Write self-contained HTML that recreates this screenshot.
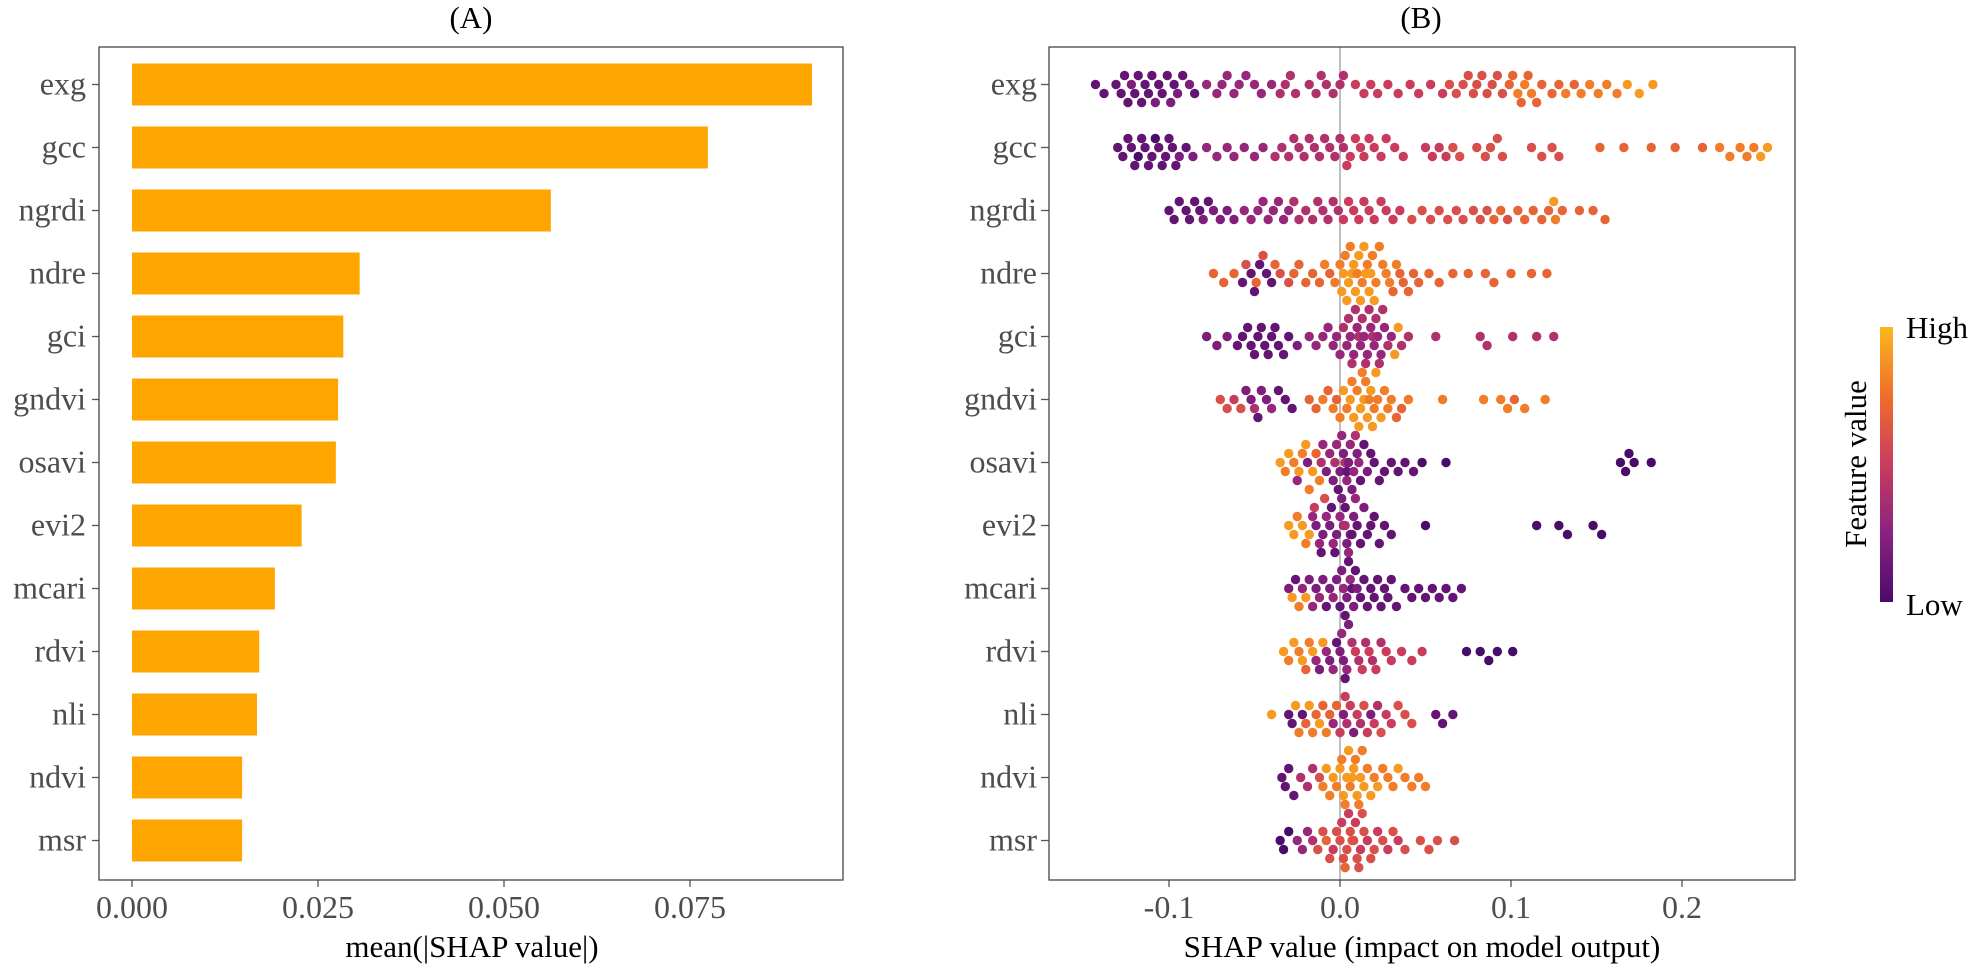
<!DOCTYPE html>
<html><head><meta charset="utf-8">
<style>
html,body{margin:0;padding:0;background:#fff;}
svg{display:block;font-family:"Liberation Serif",serif;}
</style></head>
<body>
<svg id="chart" width="1980" height="964" viewBox="0 0 1980 964" xmlns="http://www.w3.org/2000/svg">
<defs>
<linearGradient id="cbar" x1="0" y1="1" x2="0" y2="0">
<stop offset="0" stop-color="#4a0c6b"/><stop offset="0.25" stop-color="#8a2281"/>
<stop offset="0.5" stop-color="#c93c5e"/><stop offset="0.75" stop-color="#ef6e2b"/>
<stop offset="1" stop-color="#fcb81c"/>
</linearGradient>
</defs>
<g id="panelA"></g>
<g id="panelB"></g>
<g>
<rect x="1880" y="327" width="13" height="275" fill="url(#cbar)"/>
<text x="1906" y="338" font-size="31" fill="#000">High</text>
<text x="1906" y="615" font-size="31" fill="#000">Low</text>
<text x="1866" y="464" font-size="31" fill="#000" text-anchor="middle" transform="rotate(-90 1866 464)">Feature value</text>
</g>
</svg>
<script>
const features = ["exg","gcc","ngrdi","ndre","gci","gndvi","osavi","evi2","mcari","rdvi","nli","ndvi","msr"];
const meanAbsShap = [0.0914,0.0774,0.0563,0.0306,0.0284,0.0277,0.0274,0.0228,0.0192,0.0171,0.0168,0.0148,0.0148];
const barTicks = [0, 0.025, 0.05, 0.075];
const barTickLabels = ["0.000","0.025","0.050","0.075"];
const shapTicks = [-0.1, 0, 0.1, 0.2];
const shapTickLabels = ["-0.1","0.0","0.1","0.2"];
// [shap value in thousandths, feature value 0-10]
const ptsExg = [[-143,1],[-138,1],[-131,1],[-128,1],[-126,1],[-124,1],[-122,2],[-120,1],[-118,1],[-116,1],[-114,1],[-112,1],[-110,1],[-108,2],[-106,1],[-104,1],[-101,1],[-99,2],[-97,1],[-95,2],[-92,1],[-88,2],[-85,1],[-78,3],[-72,3],[-69,3],[-66,3],[-62,3],[-59,3],[-55,3],[-50,3],[-46,3],[-40,3],[-35,4],[-32,4],[-29,4],[-26,4],[-18,4],[-14,4],[-11,4],[-8,4],[-4,4],[0,4],[2,4],[9,5],[14,5],[18,5],[22,5],[28,5],[34,5],[41,5],[46,5],[53,5],[60,5],[64,6],[68,6],[72,6],[75,6],[78,6],[80,6],[83,6],[86,6],[89,6],[92,6],[95,6],[99,7],[101,7],[104,8],[106,7],[108,8],[110,7],[112,8],[115,7],[118,7],[124,7],[128,7],[132,8],[137,7],[141,8],[146,8],[151,8],[156,8],[162,8],[168,9],[175,9],[183,9]];
const ptsGcc = [[-130,1],[-127,1],[-124,1],[-122,1],[-120,1],[-118,0],[-116,1],[-114,1],[-112,1],[-110,1],[-108,0],[-106,1],[-104,1],[-102,1],[-100,1],[-98,1],[-96,1],[-94,2],[-90,1],[-86,2],[-78,3],[-72,3],[-66,3],[-62,3],[-56,3],[-50,3],[-45,3],[-38,4],[-34,4],[-30,4],[-27,4],[-24,4],[-21,4],[-18,4],[-15,4],[-12,4],[-9,4],[-6,4],[-3,4],[0,4],[2,4],[4,5],[6,5],[9,5],[12,5],[14,5],[17,5],[20,5],[24,5],[27,5],[32,5],[37,5],[50,5],[54,5],[58,5],[62,5],[66,6],[70,6],[80,6],[85,6],[88,6],[92,6],[95,6],[112,6],[118,6],[124,6],[128,6],[152,7],[166,7],[182,7],[196,7],[212,7],[222,8],[228,8],[234,8],[238,8],[242,8],[246,9],[250,9]];
const ptsNgrdi = [[-100,1],[-97,1],[-94,1],[-90,1],[-88,1],[-85,1],[-82,1],[-80,2],[-77,1],[-74,2],[-70,2],[-66,2],[-62,2],[-56,3],[-52,3],[-48,3],[-45,3],[-42,3],[-39,3],[-36,3],[-33,3],[-30,3],[-27,4],[-24,4],[-20,4],[-16,4],[-13,4],[-10,4],[-7,4],[-4,4],[-1,4],[2,5],[5,5],[8,5],[11,5],[14,5],[17,5],[20,5],[24,5],[27,5],[31,5],[35,5],[42,6],[48,6],[53,6],[58,6],[63,6],[68,6],[72,6],[78,6],[82,6],[86,6],[90,7],[94,7],[98,6],[104,7],[108,7],[113,7],[118,7],[122,7],[125,9],[126,8],[130,7],[140,7],[148,7],[155,7]];
const ptsNdre = [[-74,7],[-68,7],[-62,7],[-57,1],[-55,6],[-52,1],[-50,1],[-49,7],[-47,1],[-45,6],[-43,1],[-40,1],[-38,7],[-35,6],[-30,6],[-27,7],[-24,7],[-20,7],[-16,7],[-12,7],[-9,8],[-6,7],[-3,8],[0,8],[1,9],[2,9],[3,8],[4,9],[5,9],[6,8],[7,9],[8,9],[9,9],[10,8],[11,9],[12,9],[13,8],[14,9],[15,9],[16,8],[17,9],[18,9],[19,8],[20,9],[21,8],[23,8],[25,8],[27,8],[29,8],[31,7],[33,8],[35,7],[37,7],[40,7],[43,7],[46,7],[52,7],[58,7],[66,7],[75,7],[85,7],[90,7],[100,7],[112,7],[121,7]];
const ptsGci = [[-78,2],[-72,2],[-66,2],[-60,1],[-57,1],[-54,1],[-52,1],[-50,1],[-48,1],[-46,1],[-44,1],[-42,1],[-40,1],[-38,1],[-36,1],[-33,1],[-30,1],[-25,2],[-18,3],[-14,3],[-10,3],[-7,3],[-4,3],[-2,3],[0,3],[2,4],[4,3],[5,4],[6,3],[7,4],[8,3],[9,4],[10,3],[11,4],[12,3],[13,4],[14,3],[15,4],[16,3],[17,4],[18,3],[19,4],[20,3],[21,4],[22,3],[23,4],[24,3],[25,4],[26,3],[28,4],[30,3],[32,9],[34,9],[36,4],[40,4],[56,4],[82,4],[86,4],[101,4],[115,4],[125,4]];
const ptsGndvi = [[-70,6],[-66,6],[-62,5],[-58,6],[-55,2],[-52,2],[-50,4],[-48,1],[-46,2],[-43,2],[-40,3],[-36,1],[-32,1],[-28,1],[-18,7],[-14,7],[-10,8],[-7,7],[-4,8],[-2,7],[0,8],[2,9],[4,8],[6,9],[7,8],[8,9],[10,8],[11,9],[12,9],[13,8],[14,9],[15,8],[16,9],[17,8],[18,9],[19,9],[20,8],[21,9],[22,8],[24,9],[26,8],[28,8],[30,8],[33,7],[36,7],[40,8],[60,8],[84,8],[94,8],[98,8],[102,7],[108,8],[120,8]];
const ptsOsavi = [[-35,9],[-32,8],[-30,9],[-27,8],[-25,3],[-24,9],[-22,8],[-20,9],[-19,2],[-18,8],[-16,9],[-14,7],[-12,8],[-11,4],[-10,3],[-8,2],[-6,3],[-4,2],[-3,4],[-2,3],[-1,1],[0,2],[1,3],[2,2],[3,4],[4,3],[4,1],[5,2],[6,3],[7,2],[8,3],[9,4],[10,2],[11,3],[12,1],[14,1],[16,2],[18,1],[20,1],[23,1],[26,1],[30,1],[34,1],[38,1],[43,1],[48,0],[62,0],[164,0],[167,0],[169,0],[172,0],[182,0]];
const ptsEvi2 = [[-30,9],[-27,9],[-25,8],[-22,9],[-20,8],[-18,9],[-16,3],[-15,5],[-14,2],[-12,3],[-11,1],[-10,2],[-9,6],[-8,3],[-6,2],[-5,1],[-4,3],[-3,1],[-2,2],[0,3],[1,2],[2,3],[3,1],[3,4],[4,2],[5,3],[6,2],[7,1],[8,2],[9,3],[10,1],[12,1],[14,2],[16,1],[18,1],[20,1],[23,1],[26,1],[30,1],[50,0],[115,0],[128,0],[133,0],[148,0],[153,0]];
const ptsMcari = [[-30,2],[-28,9],[-26,1],[-24,8],[-22,3],[-20,9],[-18,2],[-16,3],[-14,2],[-12,3],[-10,2],[-8,1],[-6,2],[-4,3],[-2,2],[0,1],[1,2],[2,3],[3,1],[4,2],[5,1],[6,3],[7,1],[8,2],[9,1],[10,2],[12,1],[14,1],[16,1],[18,1],[20,1],[22,1],[24,1],[26,1],[28,1],[30,1],[33,1],[38,1],[42,1],[46,1],[50,1],[54,1],[58,1],[62,1],[66,1],[71,1]];
const ptsRdvi = [[-33,9],[-30,8],[-27,9],[-24,8],[-22,9],[-20,7],[-18,8],[-16,9],[-14,3],[-12,2],[-10,9],[-8,3],[-6,2],[-4,3],[-2,1],[0,2],[1,3],[2,2],[3,1],[4,3],[5,2],[7,4],[9,5],[11,4],[13,5],[15,4],[17,5],[19,4],[21,5],[24,4],[27,5],[30,5],[36,5],[42,5],[48,5],[74,0],[82,0],[87,0],[92,0],[101,0]];
const ptsNli = [[-40,9],[-30,1],[-28,1],[-26,9],[-24,8],[-22,1],[-20,7],[-18,9],[-16,8],[-14,7],[-12,9],[-10,7],[-8,8],[-6,7],[-4,3],[-2,7],[0,5],[2,2],[3,5],[4,4],[6,5],[8,2],[10,5],[12,4],[14,6],[16,5],[18,2],[20,5],[22,4],[24,6],[27,5],[30,5],[34,6],[38,6],[42,6],[56,1],[60,1],[66,1]];
const ptsNdvi = [[-34,1],[-32,1],[-30,1],[-27,1],[-23,4],[-19,4],[-16,4],[-12,6],[-10,8],[-8,9],[-6,8],[-4,9],[-2,8],[0,9],[1,8],[2,9],[3,8],[4,9],[5,9],[6,8],[7,9],[8,9],[9,8],[10,9],[11,8],[12,9],[13,8],[14,9],[16,8],[18,9],[20,8],[22,9],[25,8],[28,8],[31,8],[34,9],[38,8],[42,8],[46,8],[50,8]];
const ptsMsr = [[-35,0],[-33,0],[-30,0],[-25,3],[-22,3],[-19,3],[-16,4],[-13,6],[-10,6],[-8,7],[-6,6],[-4,5],[-2,6],[0,6],[1,5],[2,6],[3,7],[4,6],[5,5],[6,6],[7,7],[8,6],[9,5],[10,6],[11,6],[12,5],[13,6],[14,6],[16,5],[18,6],[20,6],[22,5],[25,6],[28,5],[31,6],[34,5],[38,6],[47,6],[52,6],[57,6],[67,6]];
const swarmData = [ptsExg,ptsGcc,ptsNgrdi,ptsNdre,ptsGci,ptsGndvi,ptsOsavi,ptsEvi2,ptsMcari,ptsRdvi,ptsNli,ptsNdvi,ptsMsr];

const NS="http://www.w3.org/2000/svg";
function mk(tag, attrs, parent, text){
  const e=document.createElementNS(NS,tag);
  for(const k in attrs) e.setAttribute(k,attrs[k]);
  if(text!==undefined) e.textContent=text;
  parent.appendChild(e); return e;
}
const plotTop=47, plotBottom=880, rowY0=84.5, rowStep=63;
const yRow = i => rowY0 + i*rowStep;

// Panel A
const A=document.getElementById('panelA');
const aL=99, aR=843, x0A=132, pxPerUnitA=186/0.025;
const xA = v => x0A + v*pxPerUnitA;
mk('text',{x:471,y:28,'font-size':31,'text-anchor':'middle',fill:'#000',},A,'(A)');
features.forEach((f,i)=>{
  const r=mk('rect',{x:xA(0),y:yRow(i)-21,width:xA(meanAbsShap[i])-xA(0),height:42,fill:'#ffa500'},A);
  
  
  const t=mk('text',{x:86,y:yRow(i)+10,'font-size':32,'text-anchor':'end',fill:'#4d4d4d'},A,f);
  
  
  mk('line',{x1:92,x2:aL,y1:yRow(i),y2:yRow(i),stroke:'#555','stroke-width':1.3},A);
});
barTicks.forEach((v,i)=>{
  mk('line',{x1:xA(v),x2:xA(v),y1:plotBottom,y2:plotBottom+7,stroke:'#555','stroke-width':1.3},A);
  const t=mk('text',{x:xA(v),y:918,'font-size':32,'text-anchor':'middle',fill:'#4d4d4d'},A,barTickLabels[i]);
  
  
});
mk('rect',{x:aL,y:plotTop,width:aR-aL,height:plotBottom-plotTop,fill:'none',stroke:'#444','stroke-width':1.3,},A);
mk('text',{x:472,y:957,'font-size':31,'text-anchor':'middle',fill:'#000',},A,'mean(|SHAP value|)');

// Panel B
const B=document.getElementById('panelB');
const bL=1049, bR=1795, x0B=1340, pxPerUnitB=1710;
const xB = v => x0B + v*pxPerUnitB;
mk('text',{x:1421,y:28,'font-size':31,'text-anchor':'middle',fill:'#000',},B,'(B)');
mk('line',{x1:xB(0),x2:xB(0),y1:plotTop,y2:plotBottom,stroke:'#aaa','stroke-width':1.5,},B);
function colorOf(fv){
  const stops=[[0,[74,12,107]],[0.25,[138,34,129]],[0.5,[201,60,94]],[0.75,[239,110,43]],[1,[252,184,28]]];
  const t=Math.max(0,Math.min(1,fv));
  for(let k=1;k<stops.length;k++){
    if(t<=stops[k][0]){
      const a=stops[k-1],b=stops[k],u=(t-a[0])/(b[0]-a[0]);
      const c=a[1].map((x,j)=>Math.round(x+(b[1][j]-x)*u));
      return 'rgb('+c.join(',')+')';
    }
  }
  return 'rgb(252,184,28)';
}
const R=4.7, layerStep=9, dxCollide=13, offsets=[0,9,-9,18,-18,27,-27];
features.forEach((f,i)=>{
  const g=mk('g',{},B);
  
  
  const pts=swarmData[i].map(p=>({x:xB(p[0]/1000),fv:p[1]/10})).sort((a,b)=>a.x-b.x);
  const placed=[];
  pts.forEach(p=>{
    let best=offsets[0], bestC=1e9;
    for(const o of offsets){
      let c=0;
      for(const q of placed){
        if(q.y===o && Math.abs(q.x-p.x)<dxCollide) c++;
      }
      if(c===0){best=o;bestC=0;break;}
      if(c<bestC){bestC=c;best=o;}
    }
    placed.push({x:p.x,y:best});
    const c=mk('circle',{cx:p.x,cy:yRow(i)+best,r:R,fill:colorOf(p.fv)},g);
    
    
  });
  const t=mk('text',{x:1037,y:yRow(i)+10,'font-size':32,'text-anchor':'end',fill:'#4d4d4d'},B,f);
  
  
  mk('line',{x1:1041,x2:bL,y1:yRow(i),y2:yRow(i),stroke:'#555','stroke-width':1.3},B);
});
shapTicks.forEach((v,i)=>{
  mk('line',{x1:xB(v),x2:xB(v),y1:plotBottom,y2:plotBottom+7,stroke:'#555','stroke-width':1.3},B);
  const t=mk('text',{x:xB(v),y:918,'font-size':32,'text-anchor':'middle',fill:'#4d4d4d'},B,shapTickLabels[i]);
  
  
});
mk('rect',{x:bL,y:plotTop,width:bR-bL,height:plotBottom-plotTop,fill:'none',stroke:'#444','stroke-width':1.3,},B);
mk('text',{x:1422,y:957,'font-size':31,'text-anchor':'middle',fill:'#000',},B,'SHAP value (impact on model output)');
</script>
</body></html>
